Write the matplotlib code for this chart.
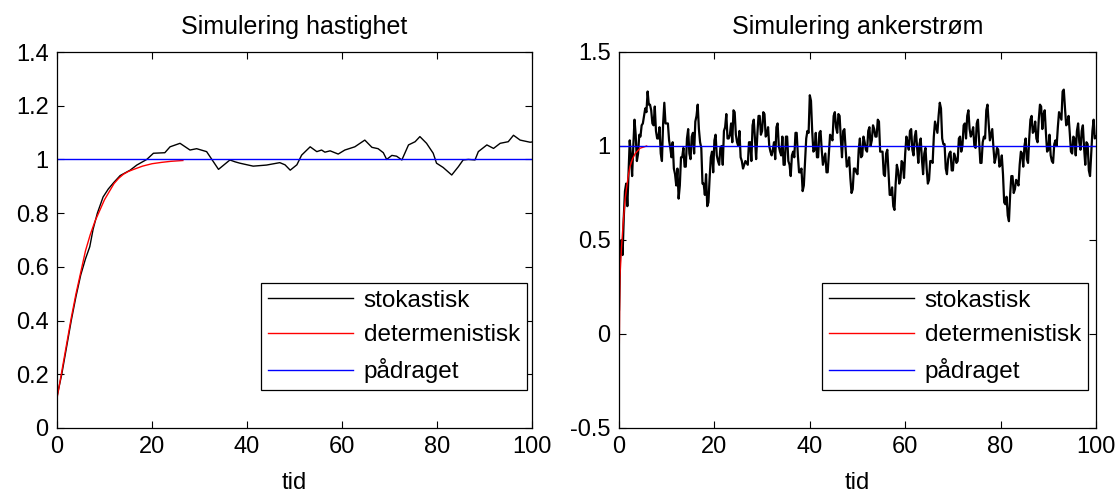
import matplotlib
matplotlib.use("Agg")
import matplotlib.pyplot as plt
from matplotlib.ticker import FuncFormatter

plt.rcParams['font.family'] = ['Liberation Sans', 'DejaVu Sans']

# ---------------- data: left panel (speed) ----------------
t_det_v = [0, 1, 2, 3, 4, 5, 6, 7, 8, 9, 10, 11, 12, 13, 14, 15, 16, 18, 20, 22, 24, 26.5]
y_det_v = [0.11, 0.21, 0.31, 0.41, 0.50, 0.58, 0.66, 0.72, 0.77, 0.81, 0.85, 0.88, 0.91,
           0.93, 0.945, 0.955, 0.962, 0.975, 0.984, 0.989, 0.993, 0.996]

t_sto_v = [0, 1, 2, 3, 4, 5, 6, 6.9, 7.6, 8.5, 9.7, 10.8, 12, 13.3, 15.4, 16.8, 18.9, 20.3,
           22.7, 23.8, 25.9, 28.0, 29.4, 31.5, 32.6, 34.0, 36.4, 37.5, 38.5, 41.3, 44.1, 46.9,
           48.0, 49.1, 50.5, 51.5, 53.3, 54.7, 55.7, 56.4, 57.5, 59.2, 60.6, 62.7, 64.8, 66.3,
           67.6, 68.7, 69.4, 70.5, 71.5, 72.6, 74.0, 75.4, 76.4, 77.8, 79.2, 79.9, 81.3, 83.1,
           84.5, 85.5, 86.6, 88.0, 88.7, 90.5, 91.9, 93.3, 95.0, 96.1, 97.5, 99.6, 100]
y_sto_v = [0.117, 0.20, 0.30, 0.40, 0.49, 0.57, 0.63, 0.675, 0.74, 0.80, 0.86, 0.89, 0.915,
           0.94, 0.96, 0.979, 1.0, 1.023, 1.025, 1.047, 1.06, 1.035, 1.04, 1.029, 1.0, 0.963,
           0.998, 0.991, 0.986, 0.975, 0.979, 0.988, 0.98, 0.96, 0.98, 1.016, 1.047, 1.029,
           1.035, 1.027, 1.032, 1.02, 1.035, 1.047, 1.072, 1.045, 1.04, 1.025, 1.0, 1.015,
           1.012, 0.998, 1.054, 1.066, 1.085, 1.06, 1.023, 0.986, 0.97, 0.942, 0.973, 0.998,
           1.0, 0.998, 1.029, 1.054, 1.041, 1.06, 1.066, 1.09, 1.072, 1.064, 1.065]

t_ref = [0, 100]
y_ref = [1, 1]

# ---------------- data: right panel (armature current) ----------------
t_det_i = [0, 0.2, 0.5, 0.9, 1.3, 1.6, 2.0, 2.3, 2.8, 3.4, 4.4, 5.8]
y_det_i = [-0.23, 0.30, 0.45, 0.60, 0.72, 0.78, 0.85, 0.89, 0.93, 0.96, 0.988, 1.0]

# samples at t = 0, 0.5, 1.0, ... 100
y_sto_i_a = [
    0.13, 0.50, 0.62, 0.80, 0.86, 0.95, 1.00, 1.06, 0.96, 1.05,
    1.12, 1.20, 1.29, 1.22, 1.12, 1.21, 1.04, 1.10, 0.92, 1.23,
    1.12, 1.03, 0.94, 0.88, 0.79, 0.72, 0.94, 0.99, 0.89, 1.09,
    0.93, 1.07, 1.13, 1.22, 1.02, 0.80, 0.74, 0.68, 0.83, 0.97,
    1.03, 0.95, 0.90, 1.00, 1.08, 1.17, 1.04, 1.12, 1.19, 1.06,
    1.00, 0.94, 0.88, 0.92, 0.90, 1.02, 1.11, 1.04, 1.06, 1.16,
    1.08, 1.17, 1.06, 1.00, 0.95, 1.02, 1.10, 1.00, 0.95, 0.90,
    1.05, 0.92, 0.84, 0.97, 1.07, 0.95, 0.86, 0.76, 0.92, 1.08,
    1.27, 1.08, 0.98, 0.94, 1.07, 0.98, 0.93, 0.86, 0.96, 1.05,
    1.16, 1.10, 1.17, 1.04, 1.08, 0.99, 0.90, 0.83, 0.77, 0.88,
    0.85, 1.04, 0.95, 1.02, 0.97, 1.10, 1.03, 1.09, 1.05, 1.13,
    0.97, 0.85, 0.96, 0.86, 0.74, 0.68, 0.80, 0.87, 0.82, 0.91,
    0.96, 1.02, 1.08, 0.98, 1.05, 0.99, 1.01, 0.93, 0.96, 0.88,
    0.82, 0.92, 1.05, 1.10, 1.16, 1.20, 1.01, 0.88, 0.93, 0.97,
    0.87, 0.94, 0.92, 1.05, 1.00, 1.12, 1.16, 1.09, 1.07, 1.00,
    1.12, 1.02, 0.91, 1.05, 1.19, 1.12, 1.06, 0.99, 0.94, 0.98,
    0.90, 0.85, 0.69, 0.63, 0.74, 0.84, 0.77, 0.81, 0.90, 0.96,
    1.00, 0.93, 1.04, 1.16, 1.08, 1.04, 1.14, 1.21, 1.17, 1.07,
    0.98, 0.95, 0.91, 1.03, 1.10, 1.16, 1.29, 1.20, 1.12, 1.07,
    0.96, 1.04, 1.08, 1.02, 1.08, 0.99, 1.02, 0.87, 0.96, 1.14,
    1.05]
# samples at t = 0.25, 0.75, ... 99.75
y_sto_i_b = [
    0.46, 0.42, 0.76, 0.68, 1.03, 0.84, 1.14, 0.92, 1.06, 1.11,
    1.16, 1.18, 1.22, 1.19, 1.11, 1.08, 1.04, 0.96, 1.12, 1.12,
    1.12, 0.99, 1.02, 0.85, 0.88, 0.79, 0.94, 0.89, 1.04, 0.96,
    1.05, 0.96, 1.16, 1.09, 0.99, 0.80, 0.85, 0.70, 0.94, 0.86,
    1.06, 0.92, 0.99, 0.90, 1.10, 1.04, 1.06, 1.02, 1.18, 1.02,
    1.08, 0.92, 0.90, 0.91, 1.02, 0.92, 1.14, 0.93, 1.16, 1.06,
    1.18, 1.05, 1.10, 0.97, 0.98, 0.93, 1.12, 0.97, 1.05, 0.90,
    1.05, 0.90, 0.95, 0.94, 1.07, 0.86, 0.88, 0.79, 1.04, 1.07,
    1.24, 0.97, 1.07, 0.94, 1.08, 0.90, 0.96, 0.86, 1.06, 1.03,
    1.18, 1.07, 1.16, 0.94, 1.09, 0.89, 0.94, 0.75, 0.88, 0.86,
    0.98, 0.94, 1.05, 0.98, 1.08, 1.00, 1.11, 1.05, 1.14, 0.97,
    0.97, 0.84, 0.98, 0.74, 0.78, 0.66, 0.90, 0.80, 0.92, 0.83,
    1.05, 0.98, 1.09, 0.95, 1.08, 0.91, 1.04, 0.85, 0.99, 0.80,
    0.92, 0.91, 1.13, 1.07, 1.23, 1.04, 1.01, 0.85, 0.96, 0.87,
    0.96, 0.91, 1.04, 0.97, 1.11, 1.04, 1.19, 1.05, 1.10, 0.99,
    1.14, 0.91, 1.02, 1.04, 1.22, 1.03, 1.09, 0.91, 0.99, 0.89,
    0.95, 0.70, 0.73, 0.60, 0.84, 0.75, 0.82, 0.79, 0.97, 0.89,
    1.04, 0.91, 1.14, 1.07, 1.13, 1.02, 1.22, 1.09, 1.19, 0.97,
    1.06, 0.92, 1.01, 1.00, 1.18, 1.14, 1.30, 1.11, 1.16, 0.97,
    1.05, 0.95, 1.12, 0.98, 1.11, 0.90, 1.01, 0.84, 1.08, 1.04]

labels = ['stokastisk', 'determenistisk', 'p\u00e5draget']
titles = ['Simulering hastighet', 'Simulering ankerstr\u00f8m']
xlabel = 'tid'
xticks = [0, 20, 40, 60, 80, 100]
yticks_v = [0, 0.2, 0.4, 0.6, 0.8, 1.0, 1.2, 1.4]
yticks_i = [-0.5, 0, 0.5, 1.0, 1.5]

# merge the two sample sets of the current trace in time order
t_sto_i, y_sto_i = [], []
for k in range(len(y_sto_i_a)):
    t_sto_i.append(0.5 * k)
    y_sto_i.append(y_sto_i_a[k])
    if k < len(y_sto_i_b):
        t_sto_i.append(0.5 * k + 0.25)
        y_sto_i.append(y_sto_i_b[k])

# ---------------- figure ----------------
W, H = 1120, 495
fig = plt.figure(figsize=(W / 100, H / 100), dpi=100)
ax1 = fig.add_axes([57 / W, 1 - 428 / H, 475 / W, 376 / H])
ax2 = fig.add_axes([619 / W, 1 - 428 / H, 477 / W, 376 / H])

fmt = FuncFormatter(lambda v, p: ('%g' % round(v, 3)))
FS = 17

def style(ax, yticks, ylim):
    ax.set_xlim(0, 100)
    ax.set_ylim(*ylim)
    ax.set_xticks(xticks)
    ax.set_yticks(yticks)
    ax.xaxis.set_major_formatter(fmt)
    ax.yaxis.set_major_formatter(fmt)
    ax.tick_params(direction='in', top=True, right=True, length=5, width=0.8,
                   labelsize=FS, pad=6)
    for s in ax.spines.values():
        s.set_linewidth(0.9)
    ax.set_xlabel(xlabel, fontsize=FS, labelpad=10)

ax1.plot(t_sto_v, y_sto_v, color='black', lw=1.0, label=labels[0])
ax1.plot(t_det_v, y_det_v, color='red', lw=1.0, label=labels[1])
ax1.plot(t_ref, y_ref, color='blue', lw=1.0, label=labels[2])
style(ax1, yticks_v, (0, 1.4))
ax1.set_title(titles[0], fontsize=18, pad=13)

ax2.plot(t_sto_i, y_sto_i, color='black', lw=1.6, label=labels[0])
ax2.plot(t_det_i, y_det_i, color='red', lw=1.0, label=labels[1])
ax2.plot(t_ref, y_ref, color='blue', lw=1.0, label=labels[2])
style(ax2, yticks_i, (-0.5, 1.5))
ax2.set_title(titles[1], fontsize=18, pad=13)

for ax, x0 in ((ax1, 0.989), (ax2, 0.983)):
    leg = ax.legend(loc='lower right', bbox_to_anchor=(x0, 0.101), fontsize=17.5,
                    fancybox=False, framealpha=1, edgecolor='black',
                    handlelength=3.5, handletextpad=0.45, labelspacing=0.5,
                    borderpad=0.28, borderaxespad=0)
    leg.get_frame().set_linewidth(0.9)
    for h in leg.get_lines():
        h.set_linewidth(1.0)

fig.savefig('out.png', dpi=100)
